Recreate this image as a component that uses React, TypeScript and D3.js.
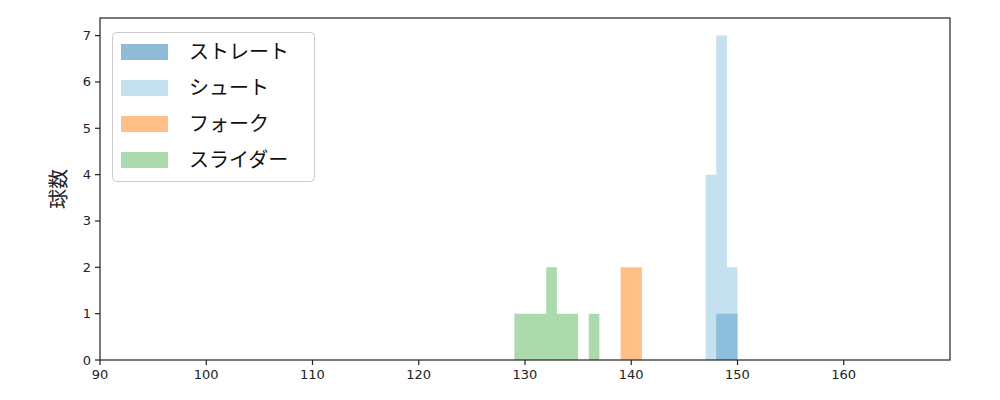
import React from "react";
import * as d3 from "d3";

const xTicks = [90, 100, 110, 120, 130, 140, 150, 160];
const yTicks = [0, 1, 2, 3, 4, 5, 6, 7];

const straightBins = [{ x0: 148, x1: 150, n: 1 }];
const shootBins = [
  { x0: 147, x1: 148, n: 4 },
  { x0: 148, x1: 149, n: 7 },
  { x0: 149, x1: 150, n: 2 },
];
const forkBins = [{ x0: 139, x1: 141, n: 2 }];
const sliderBins = [
  { x0: 129, x1: 130, n: 1 },
  { x0: 130, x1: 131, n: 1 },
  { x0: 131, x1: 132, n: 1 },
  { x0: 132, x1: 133, n: 2 },
  { x0: 133, x1: 134, n: 1 },
  { x0: 134, x1: 135, n: 1 },
  { x0: 136, x1: 137, n: 1 },
];

const seriesNames = ["ストレート", "シュート", "フォーク", "スライダー"];
const seriesColors = ["#1f77b4", "#8bc1dd", "#ff7f0e", "#59b559"];
const seriesBins = [straightBins, shootBins, forkBins, sliderBins];

const W = 1000, H = 400;
const L = 100, R = 950, T = 18, B = 360;

export default function App() {
  const x = d3.scaleLinear().domain([90, 170]).range([L, R]);
  const y = d3.scaleLinear().domain([0, 7.38]).range([B, T]);
  const tickFont = "DejaVu Sans, sans-serif";
  const jpFont = "'Noto Sans CJK JP', sans-serif";

  const seriesPath = (bins: { x0: number; x1: number; n: number }[]) => {
    const p = d3.path();
    bins.forEach((b) => {
      p.rect(x(b.x0), y(b.n), x(b.x1) - x(b.x0), y(0) - y(b.n));
    });
    return p.toString();
  };

  return (
    <svg width={W} height={H} style={{ position: "absolute", left: 0, top: 0 }}>
      <rect x={0} y={0} width={W} height={H} fill="white" />
      {seriesBins.map((bins, si) => (
        <path key={si} d={seriesPath(bins)} fill={seriesColors[si]} fillOpacity={0.5} fillRule="nonzero" />
      ))}
      <rect x={L} y={T} width={R - L} height={B - T} fill="none" stroke="#222" strokeWidth={1.2} />
      {xTicks.map((t) => (
        <g key={t}>
          <line x1={x(t)} x2={x(t)} y1={B} y2={B + 5} stroke="#222" strokeWidth={1.2} />
          <text x={x(t)} y={B + 19} fontSize={13} fontFamily={tickFont} textAnchor="middle" fill="#222">
            {t}
          </text>
        </g>
      ))}
      {yTicks.map((t) => (
        <g key={t}>
          <line x1={L - 5} x2={L} y1={y(t)} y2={y(t)} stroke="#222" strokeWidth={1.2} />
          <text x={L - 9} y={y(t) + 4.5} fontSize={13} fontFamily={tickFont} textAnchor="end" fill="#222">
            {t}
          </text>
        </g>
      ))}
      <text
        transform={`translate(66, ${(T + B) / 2}) rotate(-90)`}
        fontSize={20}
        fontFamily={jpFont}
        textAnchor="middle"
        fill="#222"
      >
        球数
      </text>
      <rect x={112.5} y={32.5} width={202} height={149} rx={4} fill="white" fillOpacity={0.8} stroke="#ccc" />
      {seriesNames.map((name, i) => (
        <g key={name}>
          <rect x={121} y={44 + i * 36} width={47} height={16} fill={seriesColors[i]} fillOpacity={0.5} />
          <text x={189} y={59 + i * 36} fontSize={20} fontFamily={jpFont} fill="#111">
            {name}
          </text>
        </g>
      ))}
    </svg>
  );
}
